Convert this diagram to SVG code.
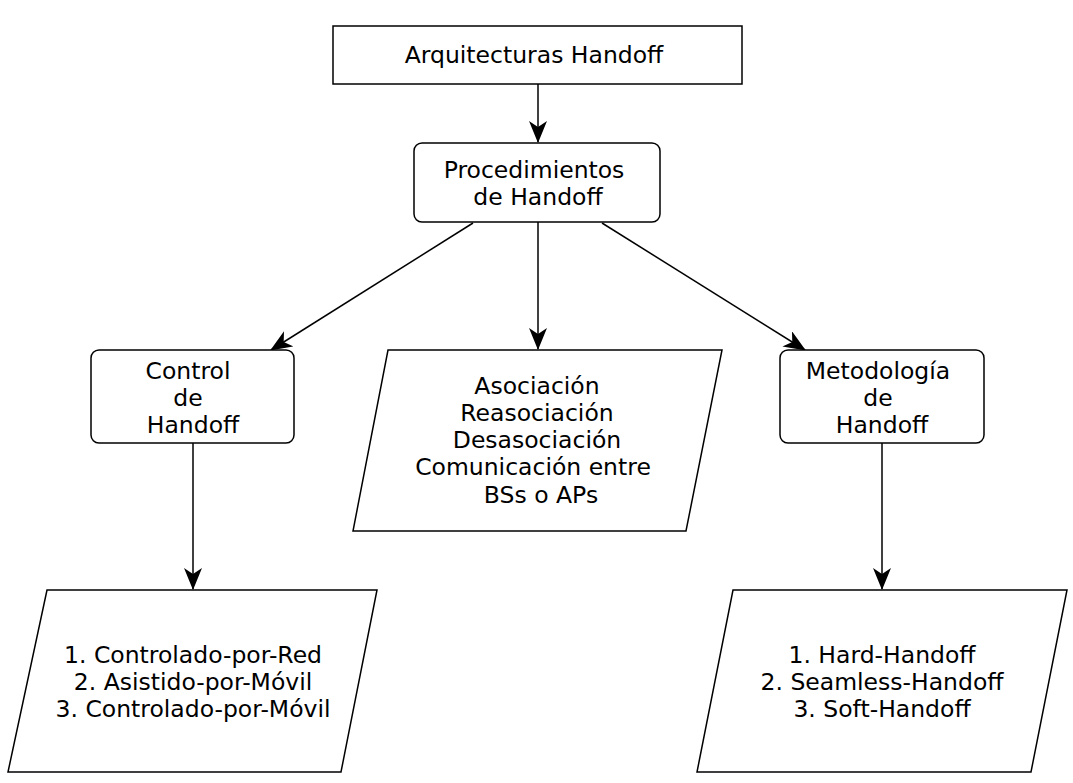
<svg xmlns="http://www.w3.org/2000/svg" width="1073" height="783" viewBox="0 0 1073 783">
<defs>
<marker id="arr" markerUnits="userSpaceOnUse" markerWidth="24" markerHeight="20" refX="21" refY="9" orient="auto">
<path d="M0,0 L22,9 L0,18 L6,9 z" fill="#000"/>
</marker>
<style>
.n{fill:#fff;stroke:#000;stroke-width:1.5}
.t{font-family:"DejaVu Sans",sans-serif;font-size:23.5px;fill:#000;text-anchor:middle}
.c{stroke:#000;stroke-width:1.5;fill:none;marker-end:url(#arr)}
</style>
</defs>
<rect width="1073" height="783" fill="#fff"/>
<g id="connectors">
<path class="c" d="M538,84 L538,142"/>
<path class="c" d="M473,223 L271,350"/>
<path class="c" d="M538,222 L538,349"/>
<path class="c" d="M602,223 L805,350"/>
<path class="c" d="M193,443 L193,589"/>
<path class="c" d="M882,443 L882,589"/>
</g>
<g id="arquitecturas">
<rect class="n" x="333" y="26" width="409" height="58"/>
<text class="t" x="534" y="63">Arquitecturas Handoff</text>
</g>
<g id="procedimientos">
<rect class="n" x="414" y="143" width="246" height="79" rx="8"/>
<text class="t" x="534" y="178">Procedimientos </text>
<text class="t" x="538" y="205">de Handoff</text>
</g>
<g id="control">
<rect class="n" x="91" y="350" width="203" height="93" rx="8"/>
<text class="t" x="188" y="379">Control</text>
<text class="t" x="188" y="406">de</text>
<text class="t" x="193" y="433">Handoff</text>
</g>
<g id="procesos">
<polygon class="n" points="388,350 722,350 686,531 353,531"/>
<text class="t" x="537" y="394">Asociación</text>
<text class="t" x="537" y="421">Reasociación</text>
<text class="t" x="537" y="448">Desasociación</text>
<text class="t" x="533" y="475">Comunicación entre</text>
<text class="t" x="541" y="503">BSs o APs</text>
</g>
<g id="metodologia">
<rect class="n" x="780" y="350" width="204" height="93" rx="8"/>
<text class="t" x="878" y="379">Metodología</text>
<text class="t" x="878" y="406">de</text>
<text class="t" x="882" y="433">Handoff</text>
</g>
<g id="tipos-control">
<polygon class="n" points="47,590 377,590 341,772 8,772"/>
<text class="t" x="193" y="663">1. Controlado-por-Red</text>
<text class="t" x="193" y="690">2. Asistido-por-Móvil</text>
<text class="t" x="193" y="717">3. Controlado-por-Móvil</text>
</g>
<g id="tipos-metodologia">
<polygon class="n" points="733,590 1067,590 1031,772 697,772"/>
<text class="t" x="882" y="663">1. Hard-Handoff</text>
<text class="t" x="882" y="690">2. Seamless-Handoff</text>
<text class="t" x="882" y="717">3. Soft-Handoff</text>
</g>
</svg>
